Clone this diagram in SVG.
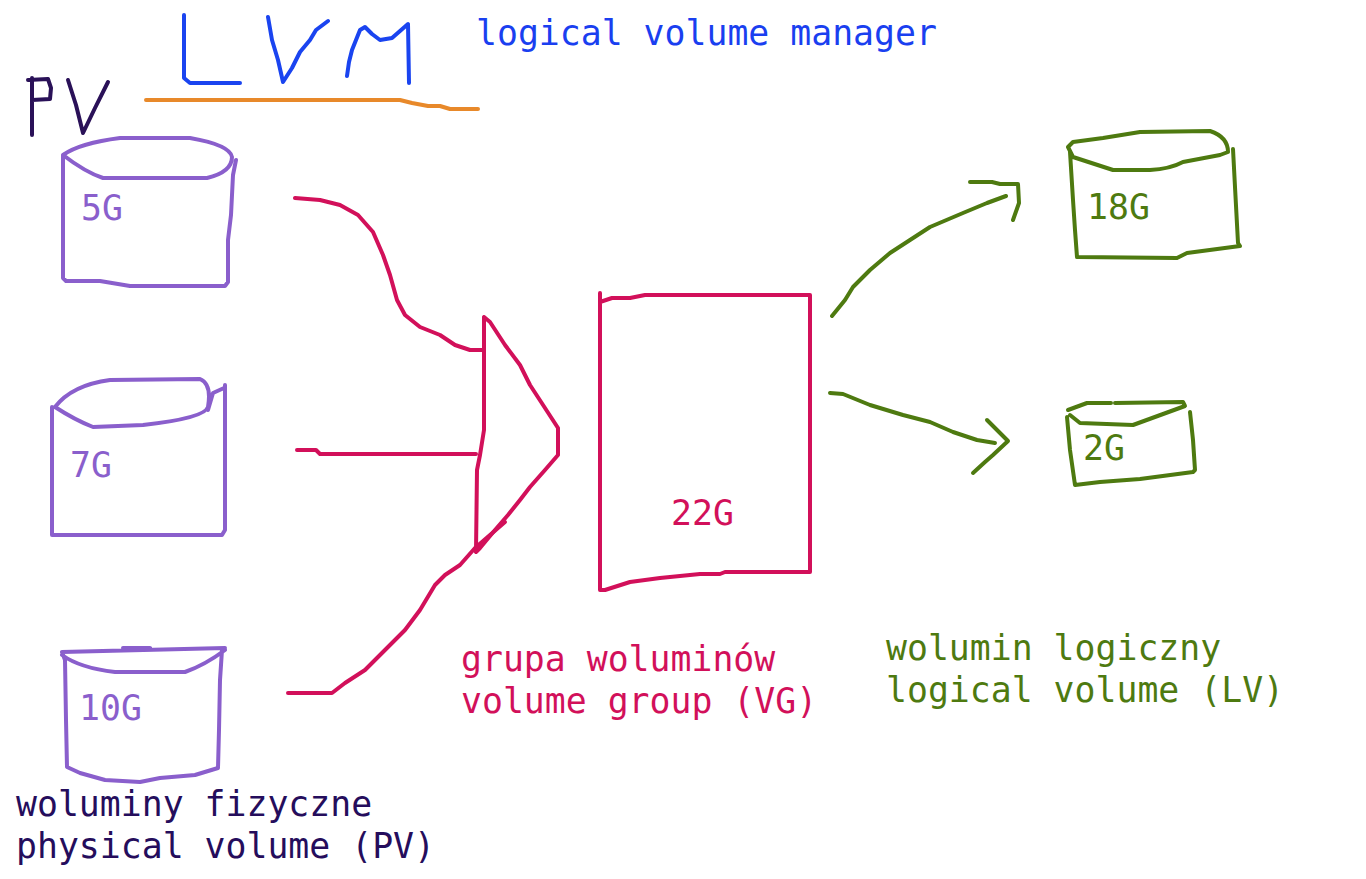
<svg xmlns="http://www.w3.org/2000/svg" width="1366" height="879" viewBox="0 0 1366 879">
<style>
.s{fill:none;stroke-width:4;stroke-linecap:round;stroke-linejoin:round}
.pu{stroke:#8a5fcc}.cr{stroke:#d2105a}.gr{stroke:#4e7a10}
.t{font-family:"DejaVu Sans Mono","Liberation Mono",monospace;font-size:34.8px}
</style>
<rect width="1366" height="879" fill="#ffffff"/>
<g id="title">
<path class="s" stroke="#2a1158" d="M32,78 L32,135 M28,80 L48,79 L51,88 L50,99 L32,100 M68,80 L76,105 L83,133 L95,108 L108,82"/>
<path class="s" stroke="#1a44f0" d="M184,15 L184,78 L190,83 L240,83 M268,17 L272,40 L278,60 L283,82 L292,68 L300,52 L310,40 L316,30 L328,21 M347,76 L349,62 L352,50 L356,40 L360,30 L365,27 L372,34 L380,40 L392,38 L408,24 L409,83"/>
<path class="s" stroke="#e8892a" d="M146,100 L400,100 L412,103 L428,106 L440,106 L450,109 L478,109"/>
<text class="t" x="476" y="45" fill="#1a3ff0">logical volume manager</text>
</g>
<g id="pv5">
<path class="s pu" d="M63,155 Q80,143 120,138 L190,138 Q230,145 232,157 Q232,172 207,178 L103,178 Q85,172 63,155 Z M63,155 L63,278 L66,281 L100,281 L130,286 L225,286 L228,282 L228,240 L231,215 L233,175 L236,160"/>
<text class="t" x="81" y="220" fill="#8a5fcc">5G</text>
</g>
<g id="pv7">
<path class="s pu" d="M55,407 Q72,385 110,380 L200,379 Q212,384 208,407 Q205,418 143,425 L93,427 Q75,420 55,407 Z M208,410 L213,393 L224,388 M52,407 L52,535 L222,535 L225,530 L225,385"/>
<text class="t" x="70" y="477" fill="#8a5fcc">7G</text>
</g>
<g id="pv10">
<path class="s pu" d="M62,652 L225,648 M123,648 L150,648 M62,655 Q80,668 115,672 L185,672 Q205,665 225,650 M62,652 L65,660 L66,720 L67,767 L80,773 L105,780 L140,782 L160,778 L195,775 L218,768 L219,730 L220,680 L222,650"/>
<text class="t" x="79" y="720" fill="#8a5fcc">10G</text>
<text class="t" x="16" y="816" fill="#250d5c">woluminy fizyczne</text>
<text class="t" x="16" y="858" fill="#250d5c">physical volume (PV)</text>
</g>
<g id="connectors">
<path class="s cr" d="M295,198 L320,200 L340,205 L358,215 L373,232 L383,255 L390,275 L397,300 L405,315 L420,327 L440,335 L455,345 L470,350 L482,350"/>
<path class="s cr" d="M297,450 L316,450 L320,454 L476,454"/>
<path class="s cr" d="M288,693 L332,693 L345,683 L365,670 L385,650 L405,630 L420,610 L435,585 L445,575 L460,565 L475,548 L490,535 L505,522"/>
<path class="s gr" d="M832,316 L845,300 L853,287 L870,270 L890,253 L910,240 L930,227 L963,213 L987,203 L1006,196 M970,182 L992,182 L1000,184 L1018,184 L1019,203 L1013,220"/>
<path class="s gr" d="M830,393 L843,394 L870,405 L903,415 L930,422 L953,432 L977,440 L995,443 M987,420 L1008,441 L993,455 L985,462 L973,473"/>
</g>
<g id="vg">
<path class="s cr" d="M484,317 L484,430 L480,455 L477,470 L476,552 M484,317 L490,322 L505,345 L520,365 L530,385 L545,408 L558,428 L558,455 L545,470 L530,487 L520,500 L508,515 L495,530 L480,548 L476,552"/>
<path class="s cr" d="M600,293 L600,590 L605,590 L630,582 L660,578 L700,574 L720,574 L725,572 L810,572 L810,295 L645,295 L630,298 L612,298 L600,302"/>
<text class="t" x="671" y="525" fill="#d2105a">22G</text>
<text class="t" x="461" y="671" fill="#d2105a">grupa woluminów</text>
<text class="t" x="461" y="713" fill="#d2105a">volume group (VG)</text>
</g>
<g id="lv18">
<path class="s gr" d="M1068,147 L1073,142 L1103,138 L1140,132 L1210,131 Q1228,137 1228,152 L1220,155 L1183,162 Q1170,169 1150,170 L1113,170 L1073,157 Z M1070,152 L1073,200 L1075,230 L1077,257 L1177,258 L1187,253 L1240,246 L1238,243 L1235,187 L1233,149"/>
<text class="t" x="1087" y="219" fill="#4e7a10">18G</text>
</g>
<g id="lv2">
<path class="s gr" d="M1068,410 L1087,403 L1111,403 M1115,403 L1183,402 L1185,406 L1133,425 L1080,423 L1070,415 M1067,417 L1070,450 L1075,485 L1100,482 L1140,479 L1193,472 L1195,470 L1193,440 L1190,412"/>
<text class="t" x="1083" y="460" fill="#4e7a10">2G</text>
<text class="t" x="886" y="660" fill="#4e7a10">wolumin logiczny</text>
<text class="t" x="886" y="702" fill="#4e7a10">logical volume (LV)</text>
</g>
</svg>
